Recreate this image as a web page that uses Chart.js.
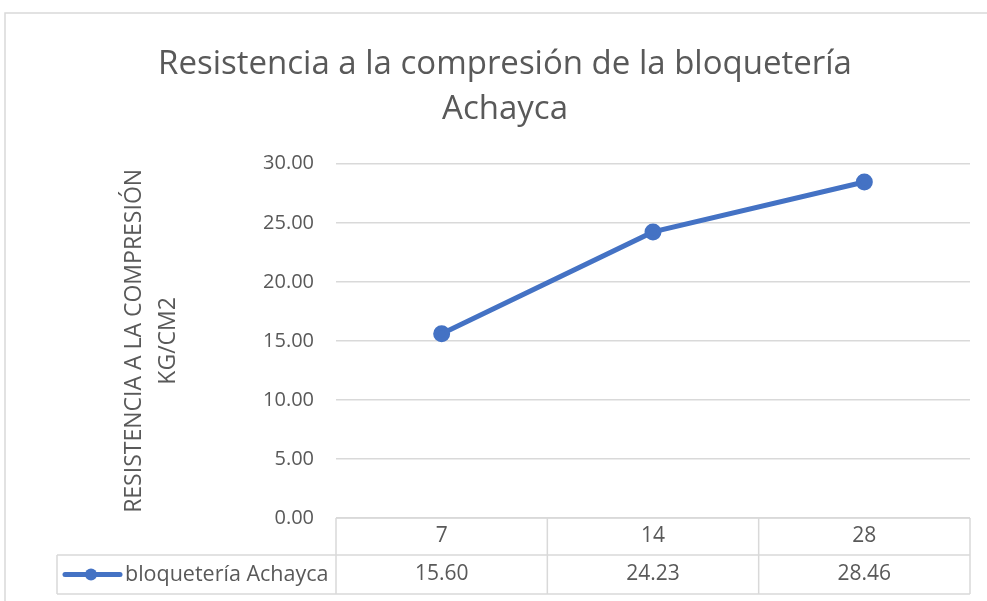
<!DOCTYPE html>
<html>
<head>
<meta charset="utf-8">
<script src="https://cdn.jsdelivr.net/npm/chart.js@4/dist/chart.umd.min.js"></script>
<style>
  html, body { margin: 0; padding: 0; background: #fff; }
  #wrap { width: 987px; height: 601px; }
</style>
</head>
<body>
<div id="wrap"><canvas id="chart" width="987" height="601"></canvas></div>
<script>
const categories = ['7', '14', '28'];
const seriesName = 'bloquetería Achayca';
const seriesValues = [15.60, 24.23, 28.46];
const yTicks = [0, 5, 10, 15, 20, 25, 30];

const FONT = "'Open Sans', 'Noto Sans', sans-serif";
const TEXT = '#595959';
const GRID = '#D9D9D9';
const BLUE = '#4472C4';

// Excel-style frame + data table under the plot
const dataTable = {
  id: 'dataTable',
  beforeDraw: (chart) => {
    const { ctx } = chart;
    ctx.save();
    ctx.strokeStyle = GRID;
    ctx.lineWidth = 1.5;
    ctx.beginPath();
    ctx.moveTo(5, 601);
    ctx.lineTo(5, 13);
    ctx.lineTo(987, 13);
    ctx.stroke();
    ctx.restore();
  },
  afterDraw: (chart) => {
    const { ctx, chartArea } = chart;
    const x = chart.scales.x;
    const band = (chartArea.right - chartArea.left) / categories.length;
    const top = chartArea.bottom;
    const mid = top + 37;
    const bottom = mid + 39;
    const legendLeft = 57;

    ctx.save();
    ctx.strokeStyle = GRID;
    ctx.lineWidth = 1.5;
    ctx.beginPath();
    ctx.moveTo(chartArea.left, top);
    ctx.lineTo(chartArea.right, top);
    ctx.moveTo(legendLeft, mid);
    ctx.lineTo(chartArea.right, mid);
    ctx.moveTo(legendLeft, bottom);
    ctx.lineTo(chartArea.right, bottom);
    ctx.moveTo(legendLeft, mid);
    ctx.lineTo(legendLeft, bottom);
    for (let i = 0; i <= categories.length; i++) {
      const px = chartArea.left + i * band;
      ctx.moveTo(px, top);
      ctx.lineTo(px, bottom);
    }
    ctx.stroke();

    ctx.fillStyle = TEXT;
    ctx.font = `21px ${FONT}`;
    ctx.textAlign = 'center';
    ctx.textBaseline = 'middle';
    categories.forEach((c, i) => {
      const cx = x.getPixelForTick(i);
      ctx.fillText(c, cx, (top + mid) / 2);
      ctx.fillText(seriesValues[i].toFixed(2), cx, (mid + bottom) / 2);
    });

    // legend key
    const ly = (mid + bottom) / 2;
    ctx.strokeStyle = BLUE;
    ctx.lineWidth = 5;
    ctx.lineCap = 'round';
    ctx.beginPath();
    ctx.moveTo(65, ly);
    ctx.lineTo(120, ly);
    ctx.stroke();
    ctx.fillStyle = BLUE;
    ctx.beginPath();
    ctx.arc(91, ly, 6, 0, Math.PI * 2);
    ctx.fill();

    ctx.fillStyle = TEXT;
    ctx.font = `21.5px ${FONT}`;
    ctx.textAlign = 'left';
    ctx.fillText(seriesName, 125, ly);
    ctx.restore();
  },
};

new Chart(document.getElementById('chart'), {
  type: 'line',
  data: {
    labels: categories,
    datasets: [{
      label: seriesName,
      data: seriesValues,
      borderColor: BLUE,
      backgroundColor: BLUE,
      borderWidth: 5,
      pointRadius: 6,
      pointHoverRadius: 6,
      tension: 0,
    }],
  },
  options: {
    responsive: false,
    animation: false,
    layout: { padding: { top: 0, right: 17, bottom: 83, left: 40 } },
    plugins: {
      legend: { display: false },
      tooltip: { enabled: false },
      title: {
        display: true,
        text: ['Resistencia a la compresión de la bloquetería', 'Achayca'],
        color: TEXT,
        font: { family: FONT, size: 33, weight: 'normal', lineHeight: 1.36 },
        padding: { top: 42, bottom: 32 },
      },
    },
    scales: {
      x: {
        offset: true,
        display: false,
      },
      y: {
        min: 0,
        max: 30,
        afterBuildTicks: (scale) => {
          scale.ticks = yTicks.map((v) => ({ value: v }));
        },
        afterFit: (scale) => {
          scale.width = 296;
        },
        border: { display: false },
        grid: { color: GRID, lineWidth: 1.5, drawTicks: false },
        ticks: {
          color: TEXT,
          padding: 22,
          font: { family: FONT, size: 20 },
          callback: (v) => Number(v).toFixed(2),
        },
        title: {
          display: true,
          text: ['RESISTENCIA A LA COMPRESIÓN', 'KG/CM2'],
          color: TEXT,
          font: { family: FONT, size: 23, lineHeight: 1.45 },
          padding: { top: 78, bottom: 0 },
        },
      },
    },
  },
  plugins: [dataTable],
});
</script>
</body>
</html>
